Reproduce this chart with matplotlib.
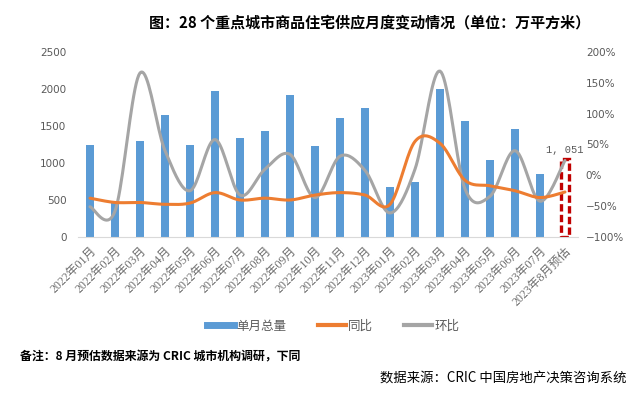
import numpy as np
import matplotlib
matplotlib.use("Agg")
import matplotlib.pyplot as plt
from matplotlib.lines import Line2D

plt.rcParams['font.family'] = ['Noto Sans CJK SC', 'DejaVu Sans']
plt.rcParams['axes.unicode_minus'] = True

categories = ["2022年01月", "2022年02月", "2022年03月", "2022年04月", "2022年05月",
              "2022年06月", "2022年07月", "2022年08月", "2022年09月", "2022年10月",
              "2022年11月", "2022年12月", "2023年01月", "2023年02月", "2023年03月",
              "2023年04月", "2023年05月", "2023年06月", "2023年07月", "2023年8月预估"]
volume = [1245, 480, 1300, 1650, 1245, 1975, 1340, 1435, 1920, 1230,
          1610, 1745, 676, 745, 2000, 1570, 1040, 1460, 850, 1051]
yoy = [-37, -44, -44, -47, -45, -28, -40, -37, -40, -32,
       -28, -32, -47, 55, 52, -8, -17, -25, -36, -27]
mom = [-51, -58, 166, 40, -25, 58, -32, 10, 34, -36,
       31, 8, -61, 10, 169, -22, -34, 40, -42, 24]
left_ticks = [0, 500, 1000, 1500, 2000, 2500]
right_ticks = [-100, -50, 0, 50, 100, 150, 200]

BLUE = "#5B9BD5"
ORANGE = "#ED7D31"
GRAY = "#A5A5A5"
TXT = "#595959"

W, H = 636, 394
fig = plt.figure(figsize=(W / 100, H / 100), dpi=100)
ax = fig.add_axes([77.5 / W, 1 - 237 / H, 500 / W, 185 / H])
ax2 = ax.twinx()

x = np.arange(len(categories))
n = len(categories)

# bars (last one is the dashed estimate)
ax.bar(x[:-1], volume[:-1], width=0.32, color=BLUE, zorder=2)
ax.bar(x[-1:], volume[-1:], width=0.32, facecolor="white", edgecolor="#C00000",
       linewidth=2.4, linestyle=(0, (2.2, 1.0)), zorder=2)
ax.text(x[-1], volume[-1] + 60, "{:,}".format(volume[-1]).replace(",", ", "),
        ha="center", va="bottom", fontsize=7.5, color=TXT, family="Liberation Mono")

ax.set_xlim(-0.5, n - 0.5)
ax.set_ylim(0, 2500)
ax2.set_ylim(-100, 200)
ax.set_yticks(left_ticks)
ax2.set_yticks(right_ticks)
ax2.set_yticklabels([("\u2212" + str(-v) if v < 0 else str(v)) + "%" for v in right_ticks])


def smooth(xs, ys, sx, sy, steps=20):
    # Catmull-Rom style Bezier smoothing (Excel smoothed line), in pixel space
    px = np.asarray(xs, float) * sx
    py = np.asarray(ys, float) * sy
    P = np.column_stack([px, py])
    out = []
    for i in range(len(P) - 1):
        p0 = P[i - 1] if i > 0 else P[i]
        p1 = P[i]
        p2 = P[i + 1]
        p3 = P[i + 2] if i + 2 < len(P) else P[i + 1]
        c1 = p1 + (p2 - p0) / 6
        c2 = p2 - (p3 - p1) / 6
        t = np.linspace(0, 1, steps, endpoint=(i == len(P) - 2))[:, None]
        b = ((1 - t) ** 3) * p1 + 3 * ((1 - t) ** 2) * t * c1 + 3 * (1 - t) * t ** 2 * c2 + t ** 3 * p2
        out.append(b)
    B = np.vstack(out)
    return B[:, 0] / sx, B[:, 1] / sy


sx, sy = 25.0, 185.0 / 300.0
xo, yo = smooth(x, yoy, sx, sy)
xm, ym = smooth(x, mom, sx, sy)
ax2.plot(xm, ym, color=GRAY, lw=2.2, solid_capstyle="round", zorder=3)
ax2.plot(xo, yo, color=ORANGE, lw=2.2, solid_capstyle="round", zorder=4)

ax.set_xticks(x)
ax.set_xticklabels(categories, rotation=45, ha="right", va="top",
                   rotation_mode="anchor", fontsize=8.6, color="#6E6E6E",
                   family=["Liberation Serif", "Noto Sans CJK SC"])

for a in (ax, ax2):
    for s in ("top", "left", "right", "bottom"):
        a.spines[s].set_visible(False)
ax.spines["bottom"].set_visible(True)
ax.spines["bottom"].set_color("#D9D9D9")
ax.tick_params(axis="x", length=0, pad=6)
ax.tick_params(axis="y", length=0, labelsize=7.5, labelcolor=TXT, pad=8)
ax2.tick_params(axis="y", length=0, labelsize=7.5, labelcolor=TXT, pad=6)
for lab in ax.get_yticklabels() + ax2.get_yticklabels():
    lab.set_family("DejaVu Sans")

ax2.set_zorder(ax.get_zorder() + 1)
ax2.patch.set_visible(False)

fig.text(370 / W, 1 - 22 / H, "图：28 个重点城市商品住宅供应月度变动情况（单位：万平方米）",
         ha="center", va="center", fontsize=10.8, fontweight="bold", color="black")

handles = [Line2D([], [], color=BLUE, lw=5),
           Line2D([], [], color=ORANGE, lw=3),
           Line2D([], [], color=GRAY, lw=3)]
fig.legend(handles, ["单月总量", "同比", "环比"], loc="center",
           bbox_to_anchor=(333 / W, 1 - 326 / H), ncol=3, frameon=False,
           fontsize=9, handlelength=2.2, columnspacing=2.5, handletextpad=0.2,
           labelcolor=TXT)

fig.text(20 / W, 1 - 357 / H, "备注：8 月预估数据来源为 CRIC 城市机构调研，下同",
         ha="left", va="center", fontsize=8.6, fontweight="bold", color="black")
fig.text(627 / W, 1 - 378 / H, "数据来源：CRIC 中国房地产决策咨询系统",
         ha="right", va="center", fontsize=9.6, color="black")

fig.savefig("out.png", dpi=100)
